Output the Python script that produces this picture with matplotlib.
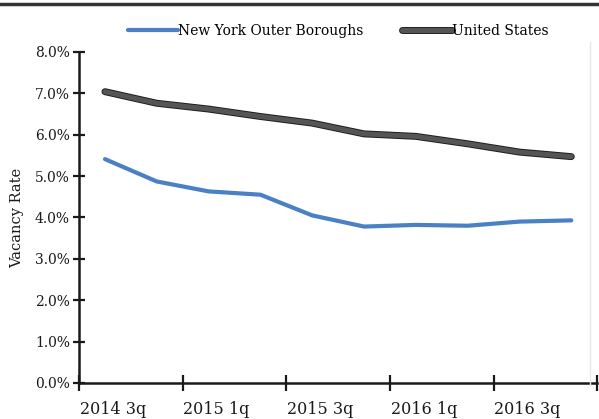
import numpy as np
import matplotlib
matplotlib.use('Agg')
import matplotlib.pyplot as plt
import matplotlib.patheffects as pe
import matplotlib.transforms as mtransforms
from matplotlib.lines import Line2D
from matplotlib.ticker import FuncFormatter

quarters = ['2014 3q', '2014 4q', '2015 1q', '2015 2q', '2015 3q',
            '2015 4q', '2016 1q', '2016 2q', '2016 3q', '2016 4q']
ny_outer = [5.41, 4.87, 4.63, 4.55, 4.05, 3.78, 3.82, 3.80, 3.90, 3.93]
us_total = [7.04, 6.76, 6.62, 6.44, 6.28, 6.02, 5.96, 5.78, 5.58, 5.47]

plt.rcParams['font.family'] = ['DejaVu Serif']

fig = plt.figure(figsize=(5.99, 4.19), dpi=100)
ax = fig.add_axes([0.132, 0.086, 0.865, 0.79])

x = np.arange(len(quarters))
ax.plot(x, ny_outer, color='#4a80c4', lw=3.0, solid_capstyle='round',
        label='New York Outer Boroughs')
ax.plot(x, us_total, color='#555555', lw=3.6, solid_capstyle='round',
        path_effects=[pe.Stroke(linewidth=5.0, foreground='#1e1e1e'), pe.Normal()],
        label='United States')

ax.set_xlim(-0.5, len(quarters) - 0.5)
ax.set_ylim(0, 8)
ax.set_yticks(np.arange(0, 9, 1))
ax.yaxis.set_major_formatter(FuncFormatter(lambda v, p: '%.1f%%' % v))

# labels every other quarter, tick marks on category boundaries
ax.set_xticks(x[::2])
ax.set_xticklabels(quarters[::2])
ax.set_xticks(np.arange(-0.5, len(quarters), 2), minor=True)
ax.tick_params(axis='x', which='major', length=0, pad=13, labelsize=11.5, colors='#1a1a1a')
ax.tick_params(axis='x', which='minor', length=12, width=1.6, direction='inout', color='#1a1a1a')
ax.tick_params(axis='y', length=9, width=1.6, direction='inout', labelsize=10, colors='#1a1a1a', pad=2)

# labels sit a little right of the category centre
shift = mtransforms.ScaledTranslation(8 / 100, 0, fig.dpi_scale_trans)
for lab in ax.get_xticklabels():
    lab.set_transform(lab.get_transform() + shift)

for s in ['top', 'right']:
    ax.spines[s].set_visible(False)
for s in ['left', 'bottom']:
    ax.spines[s].set_linewidth(1.8)
    ax.spines[s].set_color('#1a1a1a')

ax.set_ylabel('Vacancy Rate', fontsize=10.5, color='#1a1a1a', labelpad=8)

ax.legend(loc='lower center', bbox_to_anchor=(0.5, 1.005), ncol=2, frameon=False,
          handlelength=3.6, handletextpad=0.0, columnspacing=2.8, fontsize=10)

# scanned page border at the top
fig.add_artist(Line2D([0, 1], [0.99, 0.99], transform=fig.transFigure,
                      color='#333333', lw=2.5))
fig.add_artist(Line2D([0.985, 0.985], [0.08, 0.9], transform=fig.transFigure,
                      color='#e6e6e6', lw=1))

fig.savefig('out.png', dpi=100)
